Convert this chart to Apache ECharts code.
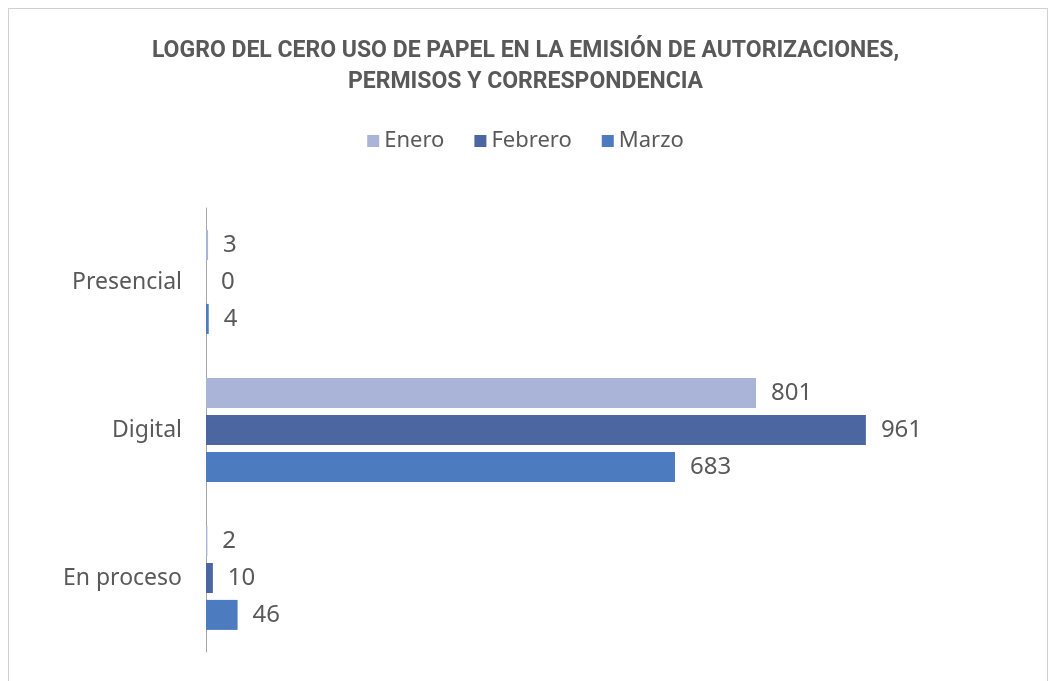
<!DOCTYPE html>
<html lang="es">
<head>
	<meta charset="UTF-8">
	<title>Logro del cero uso de papel</title>
	<style>
		body { margin: 0; background: #fff; }
		#main { position: absolute; left: 0; top: 0; width: 1051px; height: 681px; }
		#frame { position: absolute; left: 8px; top: 8px; width: 1040px; height: 680px; border: 1px solid #d0d0d0; box-sizing: border-box; pointer-events: none; }
	</style>
</head>
<body>
	<div id="main"></div>
	<div id="frame"></div>
	<script src="https://cdn.jsdelivr.net/npm/echarts@6/dist/echarts.min.js"></script>
	<script>
		var categorias = ['Presencial', 'Digital', 'En proceso'];
		var meses = ['Enero', 'Febrero', 'Marzo'];
		var enero = [3, 801, 2];
		var febrero = [0, 961, 10];
		var marzo = [4, 683, 46];
		var colores = ['#aab4d8', '#4b66a0', '#4d7bbf'];

		var myChart = echarts.init(document.getElementById('main'));

		function serie(nombre, datos, color) {
			return {
				name: nombre,
				type: 'bar',
				data: datos,
				barWidth: 30,
				barGap: '23%',
				itemStyle: { color: color },
				label: {
					show: true,
					position: 'right',
					distance: 15,
					color: '#595959',
					fontSize: 24,
					fontFamily: 'Noto Sans'
				}
			};
		}

		myChart.setOption({
			animation: false,
			title: {
				text: 'LOGRO DEL CERO USO DE PAPEL EN LA EMISIÓN DE AUTORIZACIONES,\nPERMISOS Y CORRESPONDENCIA',
				left: 'center',
				top: 31,
				textStyle: {
					color: '#595959',
					fontSize: 23,
					fontWeight: 'bold',
					fontFamily: 'Roboto',
					lineHeight: 31
				}
			},
			legend: {
				data: meses,
				top: 125,
				left: 'center',
				icon: 'rect',
				itemWidth: 12,
				itemHeight: 12,
				itemGap: 30,
				textStyle: { color: '#595959', fontSize: 22, fontFamily: 'Noto Sans' }
			},
			grid: { left: 206, top: 208, bottom: 29, right: 21 },
			xAxis: {
				type: 'value',
				min: 0,
				max: 1200,
				show: false
			},
			yAxis: {
				type: 'category',
				data: categorias,
				inverse: true,
				axisLine: { lineStyle: { color: '#a6a6a6', width: 1 } },
				axisTick: { show: false },
				axisLabel: { color: '#595959', fontSize: 23, fontFamily: 'Noto Sans', margin: 24 }
			},
			series: [
				serie(meses[0], enero, colores[0]),
				serie(meses[1], febrero, colores[1]),
				serie(meses[2], marzo, colores[2])
			]
		});
	</script>
</body>
</html>
